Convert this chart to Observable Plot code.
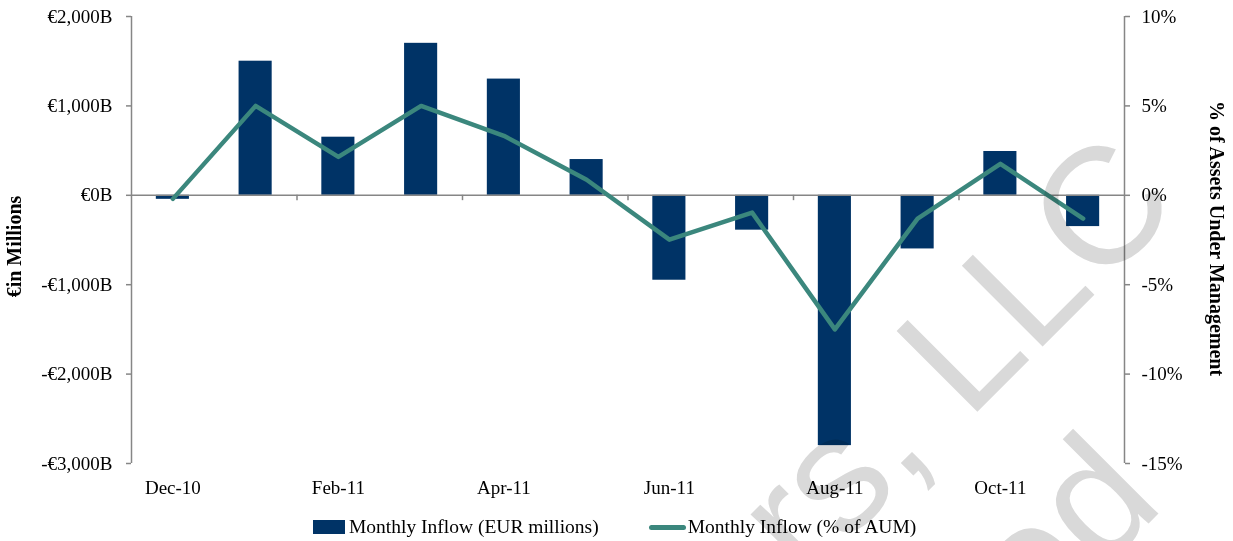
<!DOCTYPE html>
<html><head><meta charset="utf-8">
<script src="https://cdn.jsdelivr.net/npm/d3@7"></script>
<script src="https://cdn.jsdelivr.net/npm/@observablehq/plot@0.6"></script>
<style>
html,body{margin:0;padding:0;background:#fff;}
#wrap{position:relative;width:1233px;height:541px;overflow:hidden;font-family:"Liberation Serif","Times New Roman",serif;color:#000;}
.ttl{position:absolute;font-weight:bold;font-size:20px;white-space:nowrap;transform-origin:center center;}
#legend{position:absolute;left:313px;top:515px;display:flex;align-items:center;font-size:19.5px;line-height:24px;white-space:nowrap;}
.sw{display:inline-block;}
#wm{position:absolute;left:0;top:0;mix-blend-mode:multiply;pointer-events:none;}
</style></head><body><div id="wrap"></div>
<script>
// ---- data ----
const months = ["Dec-10","Jan-11","Feb-11","Mar-11","Apr-11","May-11","Jun-11","Jul-11","Aug-11","Sep-11","Oct-11","Nov-11"];
const inflowEUR = [-45, 1500, 650, 1700, 1300, 400, -950, -390, -2800, -600, 490, -350];
const inflowPct = [-0.2, 5.0, 2.15, 5.0, 3.33, 0.87, -2.48, -0.97, -7.5, -1.3, 1.76, -1.3];
const leftTicks = [-3000, -2000, -1000, 0, 1000, 2000];
const rightTicks = [-15, -10, -5, 0, 5, 10];
const xLabels = ["Dec-10","Feb-11","Apr-11","Jun-11","Aug-11","Oct-11"];
const seriesNames = ["Monthly Inflow (EUR millions)", "Monthly Inflow (% of AUM)"];
const axisTitles = ["\u20ACin Millions", "% of Assets Under Management"];
const watermarkLines = ["Partners, LLC", "Reserved"];

// ---- layout / style ----
const W = 1233, H = 500, mL = 131, mR = 109, mT = 16, mB = 37;
const barColor = "#003366", lineColor = "#3b877d", axisColor = "#868686";
const leftDom = [d3.min(leftTicks), d3.max(leftTicks)];
const rightDom = [d3.min(rightTicks), d3.max(rightTicks)];
const k = (leftDom[1] - leftDom[0]) / (rightDom[1] - rightDom[0]);
const toLeft = p => leftDom[0] + (p - rightDom[0]) * k;
const fromLeft = v => rightDom[0] + (v - leftDom[0]) / k;
const step = (W - mL - mR) / months.length;
const fmtEUR = v => (v < 0 ? "-" : "") + "\u20AC" + d3.format(",")(Math.abs(v)) + "B";

const data = months.map((m, i) => ({month: m, eur: inflowEUR[i], pct: inflowPct[i]}));
const tickMonths = months.filter((d, i) => i > 0 && i % 2 === 0);
const edges = [{m: months[0]}, {m: months[months.length - 1]}];

const chart = Plot.plot({
  width: W, height: H, marginLeft: mL, marginRight: mR, marginTop: mT, marginBottom: mB,
  style: {fontFamily: "Liberation Serif, Times New Roman, serif", fontSize: "19px", color: "#000", background: "transparent"},
  x: {type: "band", domain: months, paddingInner: 0.6, paddingOuter: 0.3, round: false},
  y: {domain: leftDom},
  marks: [
    Plot.barY(data, {x: "month", y: "eur", fill: barColor}),
    Plot.ruleY([0], {stroke: axisColor, strokeWidth: 1.5}),
    Plot.ruleX(tickMonths, {x: d => d, dx: -step / 2, y1: 0, y2: -60, stroke: axisColor, strokeWidth: 1.5}),
    Plot.ruleX([edges[0]], {x: "m", dx: -step / 2, y1: leftDom[0], y2: leftDom[1], stroke: axisColor, strokeWidth: 1.5}),
    Plot.ruleX([edges[1]], {x: "m", dx: step / 2, y1: leftDom[0], y2: leftDom[1], stroke: axisColor, strokeWidth: 1.5}),
    Plot.lineY(data, {x: "month", y: d => toLeft(d.pct), stroke: lineColor, strokeWidth: 4.5}),
    Plot.axisY({anchor: "left", ticks: leftTicks, tickFormat: fmtEUR, tickSize: 5, tickPadding: 14, stroke: axisColor, strokeWidth: 1.5, fill: "#000", label: null, fontSize: 19}),
    Plot.axisY({anchor: "right", ticks: rightTicks.map(toLeft), tickFormat: v => Math.round(fromLeft(v)) + "%", tickSize: 5, tickPadding: 12, stroke: axisColor, strokeWidth: 1.5, fill: "#000", label: null, fontSize: 19}),
    Plot.axisX({ticks: xLabels, tickSize: 0, tickPadding: 17, label: null, fill: "#000", fontSize: 19})
  ]
});

const wrap = document.getElementById("wrap");
chart.style.position = "absolute"; chart.style.left = "0"; chart.style.top = "0";
wrap.appendChild(chart);

// axis titles
const t1 = document.createElement("div");
t1.className = "ttl"; t1.textContent = axisTitles[0];
wrap.appendChild(t1);
const t2 = document.createElement("div");
t2.className = "ttl"; t2.textContent = axisTitles[1];
wrap.appendChild(t2);
function place(el, cx, cy, rot) {
  const w = el.offsetWidth, h = el.offsetHeight;
  el.style.left = (cx - w / 2) + "px"; el.style.top = (cy - h / 2) + "px";
  el.style.transform = `rotate(${rot}deg)`;
}
place(t1, 15, 246, -90);
place(t2, 1216, 238, 90);

// legend
const lg = document.createElement("div");
lg.id = "legend";
lg.innerHTML =
  `<span class="sw" style="width:32px;height:14px;background:${barColor};margin-right:4px"></span><span>${seriesNames[0]}</span>` +
  `<span class="sw" style="width:37px;height:5px;border-radius:3px;background:${lineColor};margin-left:50px;margin-right:2px"></span><span>${seriesNames[1]}</span>`;
wrap.appendChild(lg);

// watermark
const ns = "http://www.w3.org/2000/svg";
const wm = document.createElementNS(ns, "svg");
wm.setAttribute("id", "wm"); wm.setAttribute("width", 1233); wm.setAttribute("height", 541);
const wmPos = [[1183, 206], [1166, 506]];
watermarkLines.forEach((s, i) => {
  const t = document.createElementNS(ns, "text");
  t.setAttribute("transform", `translate(${wmPos[i][0]},${wmPos[i][1]}) rotate(-45)`);
  t.setAttribute("text-anchor", "end");
  t.setAttribute("font-family", "Liberation Sans, Arial, sans-serif");
  t.setAttribute("font-size", 166);
  t.setAttribute("fill", "#d9d9d9");
  t.textContent = s;
  wm.appendChild(t);
});
wrap.appendChild(wm);
</script>
</body></html>
